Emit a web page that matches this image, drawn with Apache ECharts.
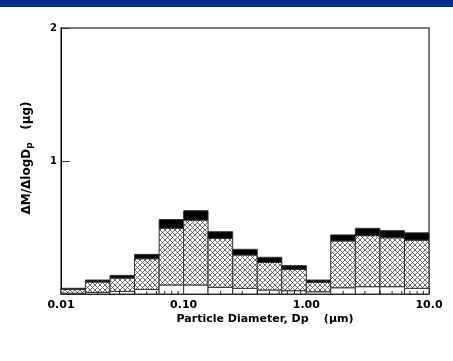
<!DOCTYPE html>
<html>
<head>
<meta charset="utf-8">
<script src="https://cdn.jsdelivr.net/npm/echarts@6/dist/echarts.min.js"></script>
<style>
  html, body { margin: 0; padding: 0; background: #fff; }
  #chart { width: 453px; height: 361px; }
</style>
</head>
<body>
<div id="chart"></div>
<script>
// Size-bin edges (µm), 5 bins per decade
const binEdges = [0.01, 0.0158, 0.0251, 0.0398, 0.0631, 0.1, 0.158, 0.251, 0.398, 0.631, 1.0, 1.58, 2.51, 3.98, 6.31, 10.0];
// Mass per bin for each stacked component (bottom → top)
const baseMass  = [0.006, 0.012, 0.020, 0.035, 0.068, 0.068, 0.050, 0.043, 0.030, 0.025, 0.017, 0.047, 0.055, 0.055, 0.043];
const midMass   = [0.029, 0.078, 0.100, 0.230, 0.427, 0.488, 0.368, 0.250, 0.208, 0.161, 0.071, 0.352, 0.384, 0.368, 0.362];
const topMass   = [0.008, 0.015, 0.020, 0.033, 0.065, 0.070, 0.050, 0.043, 0.038, 0.027, 0.017, 0.045, 0.055, 0.053, 0.055];
// Axis ticks
const xTickValues = [0.01, 0.1, 1, 10];
const xTickLabels = ['0.01', '0.10', '1.00', '10.0'];
const xMinorTicks = [0.02, 0.03, 0.04, 0.05, 0.06, 0.07, 0.08, 0.09,
                     0.2, 0.3, 0.4, 0.5, 0.6, 0.7, 0.8, 0.9,
                     2, 3, 4, 5, 6, 7, 8, 9];
const yTickLabels = ['', '1', '2'];

// Cross-hatch tile used for the middle component
function makeHatch() {
  const s = 5;
  const c = document.createElement('canvas');
  c.width = s; c.height = s;
  const g = c.getContext('2d');
  g.fillStyle = '#fff';
  g.fillRect(0, 0, s, s);
  g.strokeStyle = '#444';
  g.lineWidth = 0.8;
  g.beginPath();
  g.moveTo(-1, -1); g.lineTo(s + 1, s + 1);
  g.moveTo(s + 1, -1); g.lineTo(-1, s + 1);
  g.stroke();
  return c;
}
const hatch = { image: makeHatch(), repeat: 'repeat' };
const layerFill = ['#ffffff', hatch, '#000000'];

// Build stacked rectangles: [lo, hi, y0, y1, layer]
const layers = [baseMass, midMass, topMass];
const rects = [];
for (let i = 0; i < binEdges.length - 1; i++) {
  let acc = 0;
  layers.forEach((arr, k) => {
    rects.push([binEdges[i], binEdges[i + 1], acc, acc + arr[i], k]);
    acc += arr[i];
  });
}

const FONT = '"DejaVu Sans", Arial, sans-serif';
const chart = echarts.init(document.getElementById('chart'), null, { renderer: 'canvas' });

chart.setOption({
  animation: false,
  backgroundColor: '#fff',
  grid: { left: 61, right: 24, top: 28, bottom: 67, show: true, borderColor: '#555', borderWidth: 1.5 },
  xAxis: {
    type: 'log', logBase: 10, min: 0.01, max: 10,
    axisLine: { show: true, lineStyle: { color: '#222', width: 1 } },
    axisTick: { show: true, inside: true, length: 6, lineStyle: { color: '#222' } },
    minorTick: { show: false },
    splitLine: { show: false },
    axisLabel: {
      margin: 6, color: '#000', fontFamily: FONT, fontWeight: 'bold', fontSize: 11,
      formatter: v => {
        const idx = xTickValues.findIndex(t => Math.abs(Math.log10(t) - Math.log10(v)) < 1e-6);
        return idx >= 0 ? xTickLabels[idx] : '';
      }
    }
  },
  yAxis: {
    type: 'value', min: 0, max: 2, interval: 1,
    axisLine: { show: true, lineStyle: { color: '#000', width: 1 } },
    axisTick: { show: true, inside: true, length: 9, lineStyle: { color: '#333' } },
    splitLine: { show: false },
    axisLabel: {
      margin: 4, color: '#000', fontFamily: FONT, fontWeight: 'bold', fontSize: 10,
      formatter: v => yTickLabels[Math.round(v)] || ''
    }
  },
  graphic: [
    { type: 'rect', left: 0, top: 0, shape: { width: 453, height: 7 }, style: { fill: '#00318a' } },
    {
      type: 'text', x: 265, y: 319,
      style: {
        text: 'Particle Diameter, Dp    (µm)', fill: '#000',
        font: 'bold 11px ' + FONT, align: 'center', verticalAlign: 'middle'
      }
    },
    {
      type: 'text', x: 27, y: 158, rotation: Math.PI / 2,
      style: {
        text: '{m|ΔM/ΔlogD}{s|p}{m|   (µg)}',
        align: 'center', verticalAlign: 'middle',
        rich: {
          m: { fontFamily: FONT, fontWeight: 'bold', fontSize: 12, fill: '#000', lineHeight: 16 },
          s: { fontFamily: FONT, fontWeight: 'bold', fontSize: 9, fill: '#000', lineHeight: 16, padding: [6, 0, 0, 0] }
        }
      }
    }
  ],
  series: [
    {
      type: 'custom',
      data: rects,
      encode: { x: [0, 1], y: [2, 3] },
      renderItem: (params, api) => {
        const p0 = api.coord([api.value(0), api.value(2)]);
        const p1 = api.coord([api.value(1), api.value(3)]);
        const layer = api.value(4);
        return {
          type: 'rect',
          shape: { x: p0[0], y: p1[1], width: p1[0] - p0[0], height: p0[1] - p1[1] },
          style: { fill: layerFill[layer], stroke: '#333', lineWidth: 1 }
        };
      }
    },
    {
      type: 'custom',
      z: 5,
      data: xMinorTicks.map(v => [v, 0]),
      renderItem: (params, api) => {
        const p = api.coord([api.value(0), 0]);
        return {
          type: 'line',
          shape: { x1: p[0], y1: p[1], x2: p[0], y2: p[1] - 3 },
          style: { stroke: '#222', lineWidth: 1 }
        };
      }
    }
  ]
});
</script>
</body>
</html>
